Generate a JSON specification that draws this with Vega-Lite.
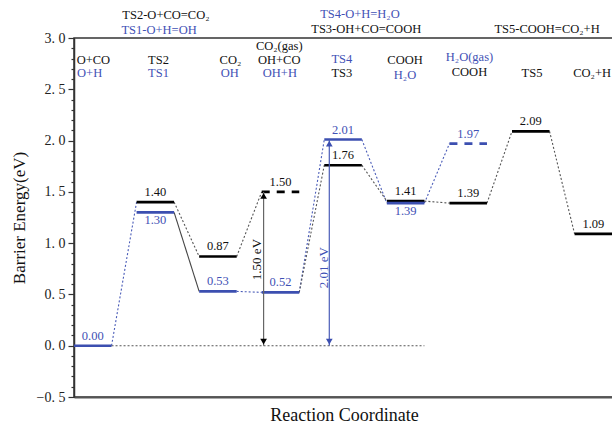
{
  "$schema": "https://vega.github.io/schema/vega-lite/v6.json",
  "width": 540,
  "height": 359,
  "autosize": "none",
  "padding": {"left": 74, "top": 38, "right": 0, "bottom": 30},
  "background": "white",
  "view": {"stroke": "#333", "strokeWidth": 1.5},
  "config": {
    "font": "Liberation Serif",
    "text": {"font": "Liberation Serif"},
    "axisX": {"ticks": false, "labels": false, "grid": false, "domain": true, "domainColor": "#555", "domainWidth": 2, "titleFont": "Liberation Serif", "titleFontSize": 18, "titleFontWeight": "normal", "titleColor": "#111", "titlePadding": 9},
    "axisY": {"labelOverlap": false, "labelFlush": false, "labelFont": "Liberation Serif", "labelFontSize": 14, "labelColor": "#222", "labelPadding": 3, "tickColor": "#333", "tickWidth": 1.2, "grid": false, "domainColor": "#333", "domainWidth": 1.5, "titleFont": "Liberation Serif", "titleFontSize": 17, "titleFontWeight": "normal", "titleColor": "#111", "titlePadding": 8}
  },
  "datasets": {
    "levels": [
      {"state": 0, "x0": -0.3, "x1": 0.3, "e": 0.00, "path": "blue", "dash": "solid", "lab": "above"},
      {"state": 1, "x0": 0.7, "x1": 1.3, "e": 1.40, "path": "black", "dash": "solid", "lab": "above"},
      {"state": 1, "x0": 0.7, "x1": 1.3, "e": 1.30, "path": "blue", "dash": "solid", "lab": "below"},
      {"state": 2, "x0": 1.7, "x1": 2.3, "e": 0.87, "path": "black", "dash": "solid", "lab": "above"},
      {"state": 2, "x0": 1.7, "x1": 2.3, "e": 0.53, "path": "blue", "dash": "solid", "lab": "above"},
      {"state": 3, "x0": 2.7, "x1": 3.3, "e": 1.50, "path": "black", "dash": "dashed", "lab": "above"},
      {"state": 3, "x0": 2.7, "x1": 3.3, "e": 0.52, "path": "blue", "dash": "solid", "lab": "above"},
      {"state": 4, "x0": 3.7, "x1": 4.3, "e": 2.01, "path": "blue", "dash": "solid", "lab": "above"},
      {"state": 4, "x0": 3.7, "x1": 4.3, "e": 1.76, "path": "black", "dash": "solid", "lab": "above"},
      {"state": 5, "x0": 4.7, "x1": 5.3, "e": 1.41, "path": "black", "dash": "solid", "lab": "above"},
      {"state": 5, "x0": 4.7, "x1": 5.3, "e": 1.39, "path": "blue", "dash": "solid", "lab": "below"},
      {"state": 6, "x0": 5.7, "x1": 6.3, "e": 1.97, "path": "blue", "dash": "dashed", "lab": "above"},
      {"state": 6, "x0": 5.7, "x1": 6.3, "e": 1.39, "path": "black", "dash": "solid", "lab": "above"},
      {"state": 7, "x0": 6.7, "x1": 7.3, "e": 2.09, "path": "black", "dash": "solid", "lab": "above"},
      {"state": 8, "x0": 7.7, "x1": 8.4, "e": 1.09, "path": "black", "dash": "solid", "lab": "above"}
    ],
    "links": [
      {"x0": 0.3, "e0": 0.00, "x1": 0.7, "e1": 1.40, "path": "blue", "style": "dotted"},
      {"x0": 1.3, "e0": 1.30, "x1": 1.7, "e1": 0.53, "path": "black", "style": "solid"},
      {"x0": 1.3, "e0": 1.40, "x1": 1.7, "e1": 0.87, "path": "black", "style": "dotted"},
      {"x0": 2.3, "e0": 0.53, "x1": 2.7, "e1": 0.52, "path": "blue", "style": "dotted"},
      {"x0": 2.3, "e0": 0.87, "x1": 2.7, "e1": 1.50, "path": "black", "style": "dotted"},
      {"x0": 3.3, "e0": 0.52, "x1": 3.7, "e1": 2.01, "path": "blue", "style": "dotted"},
      {"x0": 3.3, "e0": 0.52, "x1": 3.7, "e1": 1.76, "path": "black", "style": "dotted"},
      {"x0": 4.3, "e0": 2.01, "x1": 4.7, "e1": 1.39, "path": "blue", "style": "dotted"},
      {"x0": 4.3, "e0": 1.76, "x1": 4.7, "e1": 1.41, "path": "black", "style": "dotted"},
      {"x0": 5.3, "e0": 1.39, "x1": 5.7, "e1": 1.97, "path": "blue", "style": "dotted"},
      {"x0": 5.3, "e0": 1.41, "x1": 5.7, "e1": 1.39, "path": "black", "style": "dotted"},
      {"x0": 6.3, "e0": 1.39, "x1": 6.7, "e1": 2.09, "path": "black", "style": "dotted"},
      {"x0": 7.3, "e0": 2.09, "x1": 7.7, "e1": 1.09, "path": "black", "style": "dotted"},
      {"x0": 0.3, "e0": 0.00, "x1": 5.3, "e1": 0.00, "path": "black", "style": "dotted"}
    ],
    "arrows": [
      {"x": 2.73, "e0": 0.0, "e1": 1.50, "path": "black", "t": "1.50 eV", "tx": 2.63, "te": 0.84},
      {"x": 3.78, "e0": 0.0, "e1": 2.01, "path": "blue", "t": "2.01 eV", "tx": 3.7, "te": 0.76}
    ],
    "names": [
      {"t": "TS2-O+CO=CO₂", "x": 1.17, "e": 3.22, "path": "black"},
      {"t": "TS1-O+H=OH", "x": 1.06, "e": 3.08, "path": "blue"},
      {"t": "TS4-O+H=H₂O", "x": 4.27, "e": 3.23, "path": "blue"},
      {"t": "TS3-OH+CO=COOH", "x": 4.37, "e": 3.09, "path": "black"},
      {"t": "TS5-COOH=CO₂+H", "x": 7.26, "e": 3.09, "path": "black"},
      {"t": "O+CO", "x": 0.01, "e": 2.79, "path": "black"},
      {"t": "O+H", "x": -0.05, "e": 2.66, "path": "blue"},
      {"t": "TS2", "x": 1.05, "e": 2.79, "path": "black"},
      {"t": "TS1", "x": 1.05, "e": 2.66, "path": "blue"},
      {"t": "CO₂", "x": 2.2, "e": 2.79, "path": "black"},
      {"t": "OH", "x": 2.19, "e": 2.66, "path": "blue"},
      {"t": "CO₂(gas)", "x": 2.98, "e": 2.92, "path": "black"},
      {"t": "OH+CO", "x": 2.98, "e": 2.79, "path": "black"},
      {"t": "OH+H", "x": 2.99, "e": 2.66, "path": "blue"},
      {"t": "TS4", "x": 3.98, "e": 2.80, "path": "blue"},
      {"t": "TS3", "x": 3.98, "e": 2.66, "path": "black"},
      {"t": "COOH", "x": 4.99, "e": 2.79, "path": "black"},
      {"t": "H₂O", "x": 4.99, "e": 2.64, "path": "blue"},
      {"t": "H₂O(gas)", "x": 6.02, "e": 2.81, "path": "blue"},
      {"t": "COOH", "x": 6.02, "e": 2.67, "path": "black"},
      {"t": "TS5", "x": 7.02, "e": 2.66, "path": "black"},
      {"t": "CO₂+H", "x": 7.98, "e": 2.66, "path": "black"}
    ]
  },
  "resolve": {"scale": {"color": "independent"}},
  "layer": [
    {
      "data": {"name": "links"},
      "transform": [{"filter": "datum.style === 'dotted'"}],
      "mark": {"type": "rule", "strokeDash": [2, 2], "strokeWidth": 1.1},
      "encoding": {
        "x": {"field": "x0", "type": "quantitative", "scale": {"domain": [-0.3, 8.33], "nice": false, "zero": false}, "title": "Reaction Coordinate", "axis": {"ticks": false, "labels": false}},
        "x2": {"field": "x1"},
        "y": {"field": "e0", "type": "quantitative", "scale": {"domain": [-0.5, 3.0], "nice": false, "zero": false}, "title": "Barrier Energy(eV)", "axis": {"values": [-0.5, -0.4, -0.3, -0.2, -0.1, 0, 0.1, 0.2, 0.3, 0.4, 0.5, 0.6, 0.7, 0.8, 0.9, 1.0, 1.1, 1.2, 1.3, 1.4, 1.5, 1.6, 1.7, 1.8, 1.9, 2.0, 2.1, 2.2, 2.3, 2.4, 2.5, 2.6, 2.7, 2.8, 2.9, 3.0], "labelExpr": "abs(datum.value*2 - round(datum.value*2)) < 0.001 ? replace(format(datum.value, '.1f'), '.', '. ') : ''", "tickSize": {"condition": {"test": "abs(datum.value*2 - round(datum.value*2)) < 0.001", "value": 6}, "value": 3}, "labelOverlap": false}},
        "y2": {"field": "e1"},
        "color": {"field": "path", "type": "nominal", "scale": {"domain": ["black", "blue"], "range": ["#555555", "#4a5cb8"]}, "legend": null}
      }
    },
    {
      "data": {"name": "links"},
      "transform": [{"filter": "datum.style === 'solid'"}],
      "mark": {"type": "rule", "strokeWidth": 1.1, "color": "#444"},
      "encoding": {
        "x": {"field": "x0", "type": "quantitative", "scale": {"domain": [-0.3, 8.33], "nice": false, "zero": false}, "title": "Reaction Coordinate", "axis": {"ticks": false, "labels": false}},
        "x2": {"field": "x1"},
        "y": {"field": "e0", "type": "quantitative", "scale": {"domain": [-0.5, 3.0], "nice": false, "zero": false}, "title": "Barrier Energy(eV)", "axis": {"values": [-0.5, -0.4, -0.3, -0.2, -0.1, 0, 0.1, 0.2, 0.3, 0.4, 0.5, 0.6, 0.7, 0.8, 0.9, 1.0, 1.1, 1.2, 1.3, 1.4, 1.5, 1.6, 1.7, 1.8, 1.9, 2.0, 2.1, 2.2, 2.3, 2.4, 2.5, 2.6, 2.7, 2.8, 2.9, 3.0], "labelExpr": "abs(datum.value*2 - round(datum.value*2)) < 0.001 ? replace(format(datum.value, '.1f'), '.', '. ') : ''", "tickSize": {"condition": {"test": "abs(datum.value*2 - round(datum.value*2)) < 0.001", "value": 6}, "value": 3}, "labelOverlap": false}},
        "y2": {"field": "e1"}
      }
    },
    {
      "data": {"name": "levels"},
      "transform": [{"filter": "datum.dash === 'solid'"}],
      "mark": {"type": "rule", "strokeWidth": 2.6},
      "encoding": {
        "x": {"field": "x0", "type": "quantitative", "scale": {"domain": [-0.3, 8.33], "nice": false, "zero": false}, "title": "Reaction Coordinate", "axis": {"ticks": false, "labels": false}},
        "x2": {"field": "x1"},
        "y": {"field": "e", "type": "quantitative", "scale": {"domain": [-0.5, 3.0], "nice": false, "zero": false}, "title": "Barrier Energy(eV)", "axis": {"values": [-0.5, -0.4, -0.3, -0.2, -0.1, 0, 0.1, 0.2, 0.3, 0.4, 0.5, 0.6, 0.7, 0.8, 0.9, 1.0, 1.1, 1.2, 1.3, 1.4, 1.5, 1.6, 1.7, 1.8, 1.9, 2.0, 2.1, 2.2, 2.3, 2.4, 2.5, 2.6, 2.7, 2.8, 2.9, 3.0], "labelExpr": "abs(datum.value*2 - round(datum.value*2)) < 0.001 ? replace(format(datum.value, '.1f'), '.', '. ') : ''", "tickSize": {"condition": {"test": "abs(datum.value*2 - round(datum.value*2)) < 0.001", "value": 6}, "value": 3}, "labelOverlap": false}},
        "color": {"field": "path", "type": "nominal", "scale": {"domain": ["black", "blue"], "range": ["#000000", "#3c4fb0"]}, "legend": null}
      }
    },
    {
      "data": {"name": "levels"},
      "transform": [{"filter": "datum.dash === 'dashed'"}],
      "mark": {"type": "rule", "strokeWidth": 2.6, "strokeDash": [8, 7]},
      "encoding": {
        "x": {"field": "x0", "type": "quantitative", "scale": {"domain": [-0.3, 8.33], "nice": false, "zero": false}, "title": "Reaction Coordinate", "axis": {"ticks": false, "labels": false}},
        "x2": {"field": "x1"},
        "y": {"field": "e", "type": "quantitative", "scale": {"domain": [-0.5, 3.0], "nice": false, "zero": false}, "title": "Barrier Energy(eV)", "axis": {"values": [-0.5, -0.4, -0.3, -0.2, -0.1, 0, 0.1, 0.2, 0.3, 0.4, 0.5, 0.6, 0.7, 0.8, 0.9, 1.0, 1.1, 1.2, 1.3, 1.4, 1.5, 1.6, 1.7, 1.8, 1.9, 2.0, 2.1, 2.2, 2.3, 2.4, 2.5, 2.6, 2.7, 2.8, 2.9, 3.0], "labelExpr": "abs(datum.value*2 - round(datum.value*2)) < 0.001 ? replace(format(datum.value, '.1f'), '.', '. ') : ''", "tickSize": {"condition": {"test": "abs(datum.value*2 - round(datum.value*2)) < 0.001", "value": 6}, "value": 3}, "labelOverlap": false}},
        "color": {"field": "path", "type": "nominal", "scale": {"domain": ["black", "blue"], "range": ["#000000", "#3c4fb0"]}, "legend": null}
      }
    },
    {
      "data": {"name": "arrows"},
      "mark": {"type": "rule", "strokeWidth": 1.2},
      "encoding": {
        "x": {"field": "x", "type": "quantitative", "scale": {"domain": [-0.3, 8.33], "nice": false, "zero": false}, "title": "Reaction Coordinate", "axis": {"ticks": false, "labels": false}},
        "y": {"field": "e0", "type": "quantitative", "scale": {"domain": [-0.5, 3.0], "nice": false, "zero": false}, "title": "Barrier Energy(eV)", "axis": {"values": [-0.5, -0.4, -0.3, -0.2, -0.1, 0, 0.1, 0.2, 0.3, 0.4, 0.5, 0.6, 0.7, 0.8, 0.9, 1.0, 1.1, 1.2, 1.3, 1.4, 1.5, 1.6, 1.7, 1.8, 1.9, 2.0, 2.1, 2.2, 2.3, 2.4, 2.5, 2.6, 2.7, 2.8, 2.9, 3.0], "labelExpr": "abs(datum.value*2 - round(datum.value*2)) < 0.001 ? replace(format(datum.value, '.1f'), '.', '. ') : ''", "tickSize": {"condition": {"test": "abs(datum.value*2 - round(datum.value*2)) < 0.001", "value": 6}, "value": 3}, "labelOverlap": false}},
        "y2": {"field": "e1"},
        "color": {"field": "path", "type": "nominal", "scale": {"domain": ["black", "blue"], "range": ["#666666", "#4a5cb8"]}, "legend": null}
      }
    },
    {
      "data": {"name": "arrows"},
      "mark": {"type": "point", "shape": "triangle-up", "filled": true, "size": 45, "opacity": 1, "yOffset": 4},
      "encoding": {
        "x": {"field": "x", "type": "quantitative", "scale": {"domain": [-0.3, 8.33], "nice": false, "zero": false}, "title": "Reaction Coordinate", "axis": {"ticks": false, "labels": false}},
        "y": {"field": "e1", "type": "quantitative", "scale": {"domain": [-0.5, 3.0], "nice": false, "zero": false}, "title": "Barrier Energy(eV)", "axis": {"values": [-0.5, -0.4, -0.3, -0.2, -0.1, 0, 0.1, 0.2, 0.3, 0.4, 0.5, 0.6, 0.7, 0.8, 0.9, 1.0, 1.1, 1.2, 1.3, 1.4, 1.5, 1.6, 1.7, 1.8, 1.9, 2.0, 2.1, 2.2, 2.3, 2.4, 2.5, 2.6, 2.7, 2.8, 2.9, 3.0], "labelExpr": "abs(datum.value*2 - round(datum.value*2)) < 0.001 ? replace(format(datum.value, '.1f'), '.', '. ') : ''", "tickSize": {"condition": {"test": "abs(datum.value*2 - round(datum.value*2)) < 0.001", "value": 6}, "value": 3}, "labelOverlap": false}},
        "color": {"field": "path", "type": "nominal", "scale": {"domain": ["black", "blue"], "range": ["#000000", "#3c4fb0"]}, "legend": null}
      }
    },
    {
      "data": {"name": "arrows"},
      "mark": {"type": "point", "shape": "triangle-down", "filled": true, "size": 45, "opacity": 1, "yOffset": -4},
      "encoding": {
        "x": {"field": "x", "type": "quantitative", "scale": {"domain": [-0.3, 8.33], "nice": false, "zero": false}, "title": "Reaction Coordinate", "axis": {"ticks": false, "labels": false}},
        "y": {"field": "e0", "type": "quantitative", "scale": {"domain": [-0.5, 3.0], "nice": false, "zero": false}, "title": "Barrier Energy(eV)", "axis": {"values": [-0.5, -0.4, -0.3, -0.2, -0.1, 0, 0.1, 0.2, 0.3, 0.4, 0.5, 0.6, 0.7, 0.8, 0.9, 1.0, 1.1, 1.2, 1.3, 1.4, 1.5, 1.6, 1.7, 1.8, 1.9, 2.0, 2.1, 2.2, 2.3, 2.4, 2.5, 2.6, 2.7, 2.8, 2.9, 3.0], "labelExpr": "abs(datum.value*2 - round(datum.value*2)) < 0.001 ? replace(format(datum.value, '.1f'), '.', '. ') : ''", "tickSize": {"condition": {"test": "abs(datum.value*2 - round(datum.value*2)) < 0.001", "value": 6}, "value": 3}, "labelOverlap": false}},
        "color": {"field": "path", "type": "nominal", "scale": {"domain": ["black", "blue"], "range": ["#000000", "#3c4fb0"]}, "legend": null}
      }
    },
    {
      "data": {"name": "arrows"},
      "mark": {"type": "text", "font": "Liberation Serif", "angle": 270, "fontSize": 13, "baseline": "middle", "align": "center"},
      "encoding": {
        "x": {"field": "tx", "type": "quantitative", "scale": {"domain": [-0.3, 8.33], "nice": false, "zero": false}, "title": "Reaction Coordinate", "axis": {"ticks": false, "labels": false}},
        "y": {"field": "te", "type": "quantitative", "scale": {"domain": [-0.5, 3.0], "nice": false, "zero": false}, "title": "Barrier Energy(eV)", "axis": {"values": [-0.5, -0.4, -0.3, -0.2, -0.1, 0, 0.1, 0.2, 0.3, 0.4, 0.5, 0.6, 0.7, 0.8, 0.9, 1.0, 1.1, 1.2, 1.3, 1.4, 1.5, 1.6, 1.7, 1.8, 1.9, 2.0, 2.1, 2.2, 2.3, 2.4, 2.5, 2.6, 2.7, 2.8, 2.9, 3.0], "labelExpr": "abs(datum.value*2 - round(datum.value*2)) < 0.001 ? replace(format(datum.value, '.1f'), '.', '. ') : ''", "tickSize": {"condition": {"test": "abs(datum.value*2 - round(datum.value*2)) < 0.001", "value": 6}, "value": 3}, "labelOverlap": false}},
        "text": {"field": "t"},
        "color": {"field": "path", "type": "nominal", "scale": {"domain": ["black", "blue"], "range": ["#111111", "#3f51b5"]}, "legend": null}
      }
    },
    {
      "data": {"name": "levels"},
      "transform": [{"filter": "datum.lab === 'above'"}],
      "mark": {"type": "text", "font": "Liberation Serif", "fontSize": 12.5, "baseline": "bottom", "align": "center", "dy": -3},
      "encoding": {
        "x": {"field": "state", "type": "quantitative", "scale": {"domain": [-0.3, 8.33], "nice": false, "zero": false}, "title": "Reaction Coordinate", "axis": {"ticks": false, "labels": false}},
        "y": {"field": "e", "type": "quantitative", "scale": {"domain": [-0.5, 3.0], "nice": false, "zero": false}, "title": "Barrier Energy(eV)", "axis": {"values": [-0.5, -0.4, -0.3, -0.2, -0.1, 0, 0.1, 0.2, 0.3, 0.4, 0.5, 0.6, 0.7, 0.8, 0.9, 1.0, 1.1, 1.2, 1.3, 1.4, 1.5, 1.6, 1.7, 1.8, 1.9, 2.0, 2.1, 2.2, 2.3, 2.4, 2.5, 2.6, 2.7, 2.8, 2.9, 3.0], "labelExpr": "abs(datum.value*2 - round(datum.value*2)) < 0.001 ? replace(format(datum.value, '.1f'), '.', '. ') : ''", "tickSize": {"condition": {"test": "abs(datum.value*2 - round(datum.value*2)) < 0.001", "value": 6}, "value": 3}, "labelOverlap": false}},
        "text": {"field": "e", "format": ".2f"},
        "color": {"field": "path", "type": "nominal", "scale": {"domain": ["black", "blue"], "range": ["#111111", "#3f51b5"]}, "legend": null}
      }
    },
    {
      "data": {"name": "levels"},
      "transform": [{"filter": "datum.lab === 'below'"}],
      "mark": {"type": "text", "font": "Liberation Serif", "fontSize": 12.5, "baseline": "top", "align": "center", "dy": 2},
      "encoding": {
        "x": {"field": "state", "type": "quantitative", "scale": {"domain": [-0.3, 8.33], "nice": false, "zero": false}, "title": "Reaction Coordinate", "axis": {"ticks": false, "labels": false}},
        "y": {"field": "e", "type": "quantitative", "scale": {"domain": [-0.5, 3.0], "nice": false, "zero": false}, "title": "Barrier Energy(eV)", "axis": {"values": [-0.5, -0.4, -0.3, -0.2, -0.1, 0, 0.1, 0.2, 0.3, 0.4, 0.5, 0.6, 0.7, 0.8, 0.9, 1.0, 1.1, 1.2, 1.3, 1.4, 1.5, 1.6, 1.7, 1.8, 1.9, 2.0, 2.1, 2.2, 2.3, 2.4, 2.5, 2.6, 2.7, 2.8, 2.9, 3.0], "labelExpr": "abs(datum.value*2 - round(datum.value*2)) < 0.001 ? replace(format(datum.value, '.1f'), '.', '. ') : ''", "tickSize": {"condition": {"test": "abs(datum.value*2 - round(datum.value*2)) < 0.001", "value": 6}, "value": 3}, "labelOverlap": false}},
        "text": {"field": "e", "format": ".2f"},
        "color": {"field": "path", "type": "nominal", "scale": {"domain": ["black", "blue"], "range": ["#111111", "#3f51b5"]}, "legend": null}
      }
    },
    {
      "data": {"name": "names"},
      "mark": {"type": "text", "font": "Liberation Serif", "fontSize": 12.5, "baseline": "middle", "align": "center"},
      "encoding": {
        "x": {"field": "x", "type": "quantitative", "scale": {"domain": [-0.3, 8.33], "nice": false, "zero": false}, "title": "Reaction Coordinate", "axis": {"ticks": false, "labels": false}},
        "y": {"field": "e", "type": "quantitative", "scale": {"domain": [-0.5, 3.0], "nice": false, "zero": false}, "title": "Barrier Energy(eV)", "axis": {"values": [-0.5, -0.4, -0.3, -0.2, -0.1, 0, 0.1, 0.2, 0.3, 0.4, 0.5, 0.6, 0.7, 0.8, 0.9, 1.0, 1.1, 1.2, 1.3, 1.4, 1.5, 1.6, 1.7, 1.8, 1.9, 2.0, 2.1, 2.2, 2.3, 2.4, 2.5, 2.6, 2.7, 2.8, 2.9, 3.0], "labelExpr": "abs(datum.value*2 - round(datum.value*2)) < 0.001 ? replace(format(datum.value, '.1f'), '.', '. ') : ''", "tickSize": {"condition": {"test": "abs(datum.value*2 - round(datum.value*2)) < 0.001", "value": 6}, "value": 3}, "labelOverlap": false}},
        "text": {"field": "t"},
        "color": {"field": "path", "type": "nominal", "scale": {"domain": ["black", "blue"], "range": ["#111111", "#3f51b5"]}, "legend": null}
      }
    }
  ]
}
